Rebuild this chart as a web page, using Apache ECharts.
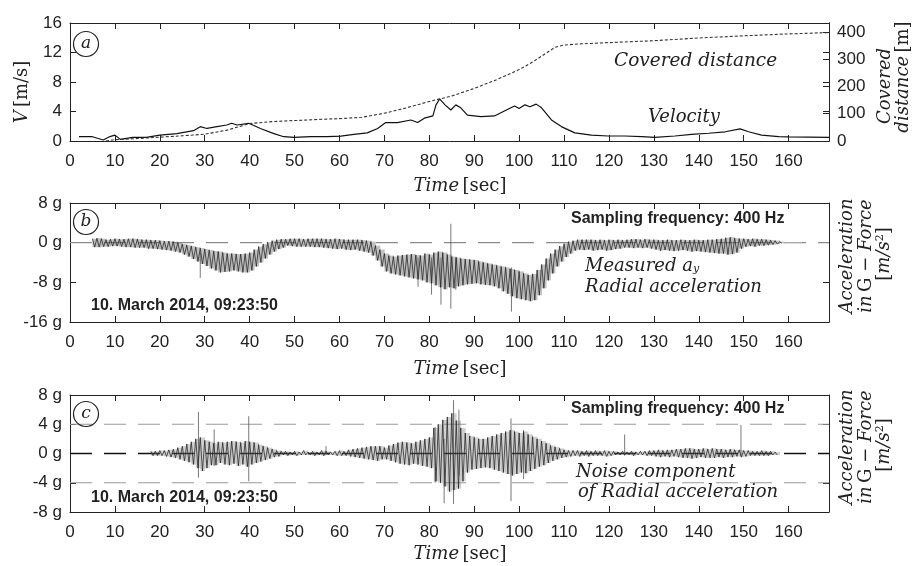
<!DOCTYPE html>
<html><head><meta charset="utf-8">
<script src="https://cdn.jsdelivr.net/npm/echarts@6/dist/echarts.min.js"></script>
<style>html,body{margin:0;padding:0;background:#fff}#c{width:914px;height:566px}</style>
</head><body><div id="c"></div>
<script>
// ---------- axis ranges / ticks ----------
const X_MIN = 0, X_MAX = 169, X_STEP = 10;
const V_MIN = 0, V_MAX = 16, V_STEP = 4;
const D_MIN = 0, D_MAX = 433, D_STEP = 100;
const B_MIN = -16, B_MAX = 8, B_STEP = 8;
const C_MIN = -8, C_MAX = 8, C_STEP = 4;

// ---------- panel (a): velocity [m/s] ----------
const vT = [2,5,7.4,8.9,10,11.2,14,17,20,23.8,27.5,29,30.5,32.7,34.9,36,37.2,39.8,42.4,45.4,47.6,49.9,53.6,57.3,60.3,63.2,66.2,68.5,70.3,72.9,75.9,77.4,78.9,80.8,81.5,82.3,83.5,84.8,85.9,87,88.5,91.5,94.5,97.5,99,100,101.3,102.4,103.8,105,107.2,109.4,112.4,116.1,119.8,123.5,127.3,130.2,134.7,138.4,142.2,145.9,149.2,151.1,154,157.8,160,169];
const vV = [0.6,0.58,0.14,0.6,0.8,0.22,0.5,0.5,0.8,1.0,1.4,1.94,1.7,1.94,2.17,2.4,2.17,2.4,1.7,1.0,0.58,0.5,0.58,0.58,0.67,0.9,1.1,1.7,2.5,2.5,2.85,2.5,3.1,3.4,4.9,5.7,4.9,4.2,4.9,4.5,3.5,3.3,3.4,4.3,4.75,4.4,4.9,4.65,5.0,4.5,2.85,1.95,1.1,0.8,0.68,0.68,0.6,0.5,0.68,0.9,1.05,1.25,1.65,1.25,0.8,0.6,0.55,0.5];
// ---------- panel (a): covered distance [m] ----------
const dT = [8,10,15,20,25,30,35,40,45,50,55,60,65,70,75,80,83,85,90,95,100,103,106,108,110,113,116,120,130,140,150,160,169];
const dV = [0,5,9,14,19,25,40,64,71,75,79,82,87,102,122,145,157,165,193,225,262,290,322,344,352,356,358,361,368,378,386,393,398];

// ---------- panel (b): measured radial acceleration envelope, one reading per second from bStart ----------
const bStart = 5;
const bHi = [0.8,0.9,0.8,0.6,0.7,0.8,0.7,0.7,0.8,0.8,
 0.7,0.6,0.6,0.5,0.5,0.4,0.3,0.3,0.2,0.0,
 -0.3,-0.5,-0.7,-0.9,-1.1,-1.3,-1.5,-1.7,-1.8,-2.0,
 -2.2,-2.2,-2.3,-2.3,-2.2,-2.0,-1.4,-0.8,-0.3,0.1,
 0.4,0.6,0.7,0.7,0.8,0.8,0.8,0.7,0.8,0.8,
 0.8,0.8,0.7,0.7,0.8,0.7,0.6,0.6,0.6,0.6,
 0.5,0.4,0.2,-0.6,-1.4,-2.2,-2.6,-2.8,-2.6,-2.5,
 -2.4,-2.3,-2.5,-2.6,-2.2,-2.4,-2.0,-1.8,-2.0,-2.4,
 -2.8,-3.0,-3.2,-3.3,-3.4,-3.5,-3.8,-4.0,-4.2,-4.4,
 -4.6,-4.8,-5.0,-5.3,-5.5,-5.8,-6.2,-6.5,-6.3,-5.5,
 -4.4,-3.2,-2.2,-1.4,-0.7,-0.2,0.2,0.4,0.6,0.6,
 0.6,0.6,0.5,0.6,0.5,0.6,0.5,0.6,0.5,0.6,
 0.7,0.7,0.6,0.7,0.6,0.6,0.5,0.5,0.6,0.5,
 0.5,0.6,0.5,0.5,0.6,0.5,0.5,0.6,0.6,0.7,
 0.8,1.0,1.1,0.9,0.8,0.8,0.7,0.8,0.7,0.7,
 0.6,0.5,0.4,0.2];
const bLo = [-0.9,-0.9,-0.8,-0.8,-0.7,-0.7,-0.8,-0.9,-0.9,-1.0,
 -1.0,-1.0,-1.2,-1.2,-1.3,-1.4,-1.5,-1.6,-1.8,-2.0,
 -2.4,-2.8,-3.3,-3.8,-4.3,-4.7,-5.2,-5.6,-6.0,-5.9,
 -5.8,-5.6,-5.8,-6.0,-6.0,-5.6,-4.8,-4.0,-3.2,-2.4,
 -1.8,-1.3,-1.0,-0.6,-0.7,-0.8,-0.8,-0.8,-0.8,-0.9,
 -0.9,-1.0,-1.1,-1.2,-1.3,-1.2,-1.4,-1.5,-1.4,-1.6,
 -1.8,-2.0,-2.6,-3.6,-4.8,-5.8,-6.2,-6.4,-6.6,-6.8,
 -7.0,-7.2,-7.4,-7.6,-8.0,-8.2,-8.6,-9.0,-9.4,-9.0,
 -9.2,-8.8,-8.6,-8.4,-8.3,-8.2,-8.4,-8.5,-8.6,-8.8,
 -9.2,-9.8,-10.3,-10.8,-11.2,-11.4,-11.6,-11.8,-11.6,-10.6,
 -9.2,-7.6,-6.2,-4.8,-3.8,-2.9,-2.2,-1.6,-1.4,-1.5,
 -1.4,-1.6,-1.5,-1.4,-1.6,-1.5,-1.3,-1.2,-1.0,-1.0,
 -1.1,-1.0,-1.1,-1.0,-1.2,-1.4,-1.6,-1.5,-1.6,-1.7,
 -1.6,-1.5,-1.6,-1.8,-1.7,-1.8,-1.9,-2.0,-2.1,-2.2,
 -2.2,-2.4,-2.3,-2.0,-1.2,-0.8,-0.7,-0.8,-0.6,-0.6,
 -0.5,-0.4,-0.3,-0.1];
const bSpikeT   = [29.0, 77.5, 80.5, 82.6, 84.8, 85.9, 98.3];
const bSpikeTop = [-2.0, -3.0, -3.0, -3.0, 3.8, -3.0, -5.0];
const bSpikeBot = [-7.1, -8.9, -10.5, -12.5, -13.3, -9.5, -13.9];
const bTailT = [158.5, 163];
const bTailV = [0, 0];
const bRefLevels = [0];

// ---------- panel (c): noise component envelope, one reading per second from cStart ----------
const cStart = 18;
const cHi = [0.3,0.3,0.4,0.4,0.5,0.6,0.8,1.0,1.3,1.6,
 2.0,2.2,1.8,1.6,1.4,1.6,1.5,1.6,1.7,1.6,
 1.5,1.7,1.6,1.5,1.2,1.0,0.8,0.6,0.4,0.3,
 0.3,0.2,0.3,0.2,0.4,0.2,0.3,0.2,0.4,0.3,
 0.2,0.3,0.4,0.3,0.5,0.6,0.7,0.8,0.9,1.0,
 1.0,1.0,0.8,1.1,1.3,1.5,1.6,1.5,1.4,1.6,
 1.8,2.0,2.2,3.5,4.0,4.6,5.0,5.5,4.5,3.5,
 2.8,2.4,2.2,2.0,2.0,2.2,2.4,2.6,2.8,3.0,
 3.2,3.0,2.8,3.0,2.6,2.3,2.0,1.7,1.4,1.1,
 0.9,0.7,0.5,0.4,0.4,0.4,0.3,0.4,0.3,0.4,
 0.3,0.4,0.3,0.3,0.2,0.3,0.2,0.3,0.2,0.3,
 0.3,0.4,0.4,0.5,0.4,0.5,0.5,0.6,0.6,0.7,
 0.7,0.6,0.6,0.7,0.6,0.7,0.6,0.6,0.5,0.6,
 0.5,0.5,0.4,0.4,0.3,0.3,0.4,0.3,0.3,0.2];
const cLo = [-0.3,-0.3,-0.3,-0.4,-0.5,-0.6,-0.8,-1.0,-1.2,-1.5,
 -2.0,-2.4,-2.0,-1.6,-1.6,-1.3,-1.5,-1.6,-1.4,-1.7,
 -1.5,-1.8,-1.5,-1.3,-1.1,-0.9,-0.7,-0.5,-0.4,-0.2,
 -0.3,-0.2,-0.3,-0.2,-0.2,-0.2,-0.3,-0.2,-0.3,-0.2,
 -0.2,-0.3,-0.3,-0.3,-0.4,-0.5,-0.6,-0.7,-0.8,-0.9,
 -1.0,-0.8,-0.8,-1.0,-1.2,-1.4,-1.5,-1.6,-1.4,-1.5,
 -1.7,-1.8,-2.0,-3.8,-4.0,-4.5,-5.2,-5.0,-4.8,-3.8,
 -2.6,-2.2,-2.1,-2.0,-1.9,-2.0,-2.2,-2.4,-2.6,-2.8,
 -3.0,-2.8,-2.6,-2.7,-2.4,-2.1,-1.8,-1.6,-1.3,-1.0,
 -0.8,-0.6,-0.5,-0.4,-0.3,-0.4,-0.3,-0.4,-0.3,-0.3,
 -0.3,-0.4,-0.3,-0.2,-0.2,-0.2,-0.2,-0.3,-0.2,-0.2,
 -0.3,-0.3,-0.4,-0.5,-0.4,-0.5,-0.4,-0.5,-0.6,-0.6,
 -0.7,-0.6,-0.5,-0.6,-0.6,-0.6,-0.5,-0.6,-0.5,-0.5,
 -0.4,-0.5,-0.4,-0.3,-0.3,-0.3,-0.3,-0.3,-0.2,-0.2];
const cSpikeT   = [28.6, 32.1, 39.8, 57.0, 81.3, 83.3, 85.4, 86.6, 98.2, 101.0, 123.5, 149.4];
const cSpikeTop = [5.7, 3.3, 5.1, 1.0, 3.6, 2.0, 7.3, 6.0, 4.8, 3.2, 2.6, 3.9];
const cSpikeBot = [-3.3, -1.7, -3.8, -0.2, -4.0, -6.8, -6.9, -3.0, -6.5, -3.5, -0.3, -0.3];
const cRefGrey = [4, -4];
const cRefBlack = [0];

// ---------- build series data ----------
const zip = (a, b) => a.map((t, i) => [t, b[i]]);
function zigzag(start, hi, lo) {
  const out = [];
  hi.forEach((h, i) => { out.push([start + i, h]); out.push([start + i + 0.5, lo[i]]); });
  return out;
}
function spikes(t, top, bot) {
  const out = [];
  t.forEach((x, i) => { out.push([x, top[i]]); out.push([x, bot[i]]); out.push([x, '-']); });
  return out;
}
function refLine(level) { return [[X_MIN, level], [X_MAX, level]]; }

// ---------- styling helpers ----------
const INK = '#222';
const LINE = { show: true, onZero: false, lineStyle: { color: INK, width: 1 } };
const TICK = { show: true, inside: true, length: 6, lineStyle: { color: INK, width: 1 } };
const LBL = { fontFamily: 'Liberation Sans', fontSize: 17, color: INK };
const gridDefs = [{ top: 23, height: 118 }, { top: 203, height: 119 }, { top: 395, height: 117 }];

const xAxis = [];
gridDefs.forEach((g, i) => {
  xAxis.push({ type: 'value', gridIndex: i, min: X_MIN, max: X_MAX, interval: X_STEP, position: 'bottom',
    axisLine: LINE, axisTick: TICK, splitLine: { show: false },
    axisLabel: Object.assign({ margin: 12, showMaxLabel: false }, LBL) });
  xAxis.push({ type: 'value', gridIndex: i, min: X_MIN, max: X_MAX, interval: X_STEP, position: 'top',
    axisLine: LINE, axisTick: TICK, splitLine: { show: false }, axisLabel: { show: false } });
});
function yAx(grid, min, max, step, pos, labels, fmt) {
  return { type: 'value', gridIndex: grid, min, max, interval: step, position: pos,
    axisLine: LINE, axisTick: TICK, splitLine: { show: false },
    axisLabel: labels ? Object.assign({ margin: 8, showMaxLabel: pos === 'right' ? false : true, formatter: fmt || '{value}' }, LBL) : { show: false } };
}
const yAxis = [
  yAx(0, V_MIN, V_MAX, V_STEP, 'left', true),          // 0
  yAx(0, D_MIN, D_MAX, D_STEP, 'right', true),         // 1
  yAx(0, V_MIN, V_MAX, V_STEP, 'right', false),        // 2
  yAx(1, B_MIN, B_MAX, B_STEP, 'left', true, '{value} g'), // 3
  yAx(1, B_MIN, B_MAX, B_STEP, 'right', false),        // 4
  yAx(2, C_MIN, C_MAX, C_STEP, 'left', true, '{value} g'), // 5
  yAx(2, C_MIN, C_MAX, C_STEP, 'right', false)         // 6
];

const base = { type: 'line', showSymbol: false, symbol: 'none', animation: false, silent: true, connectNulls: false };
// envelope band: one rectangle per one-second reading, placed via the axes
function band(xi, yi, start, hi, lo, color, op) {
  return {
    type: 'custom', xAxisIndex: xi, yAxisIndex: yi, coordinateSystem: 'cartesian2d', silent: true, animation: false, z: 1,
    data: hi.map((h, i) => [start + i, h, lo[i]]),
    encode: { x: 0, y: [1, 2] },
    renderItem: (params, api) => {
      const t = api.value(0);
      const p1 = api.coord([t, api.value(1)]);
      const p2 = api.coord([t + 1, api.value(2)]);
      return { type: 'rect', shape: { x: p1[0], y: p1[1], width: p2[0] - p1[0] + 0.4, height: p2[1] - p1[1] },
        style: { fill: color, opacity: op } };
    }
  };
}
const series = [
  Object.assign({}, base, { name: 'Velocity', xAxisIndex: 0, yAxisIndex: 0, data: zip(vT, vV), z: 3,
    lineStyle: { color: '#111', width: 1.2 } }),
  Object.assign({}, base, { name: 'Covered distance', xAxisIndex: 0, yAxisIndex: 1, data: zip(dT, dV), z: 3,
    lineStyle: { color: '#333', width: 1.1, type: [3, 2] } }),
];
bRefLevels.forEach(l => series.push(Object.assign({}, base, { xAxisIndex: 2, yAxisIndex: 3, data: refLine(l), z: 0,
  lineStyle: { color: '#8a8a8a', width: 1.4, type: [22, 12] } })));
series.push(band(2, 3, bStart, bHi, bLo, '#666', 0.4));
series.push(Object.assign({}, base, { name: 'Measured a_y', xAxisIndex: 2, yAxisIndex: 3, data: zigzag(bStart, bHi, bLo), z: 3,
  lineStyle: { color: '#222', width: 0.75 } }));
series.push(Object.assign({}, base, { xAxisIndex: 2, yAxisIndex: 3, data: spikes(bSpikeT, bSpikeTop, bSpikeBot), z: 2,
  lineStyle: { color: '#555', width: 0.8 } }));
series.push(Object.assign({}, base, { xAxisIndex: 2, yAxisIndex: 3, data: zip(bTailT, bTailV), z: 2,
  lineStyle: { color: '#bbb', width: 0.8 } }));
cRefGrey.forEach(l => series.push(Object.assign({}, base, { xAxisIndex: 4, yAxisIndex: 5, data: refLine(l), z: 0,
  lineStyle: { color: '#999', width: 1.1, type: [22, 12] } })));
cRefBlack.forEach(l => series.push(Object.assign({}, base, { xAxisIndex: 4, yAxisIndex: 5, data: refLine(l), z: 0,
  lineStyle: { color: '#111', width: 1.5, type: [22, 12] } })));
series.push(band(4, 5, cStart, cHi, cLo, '#777', 0.35));
series.push(Object.assign({}, base, { name: 'Noise component', xAxisIndex: 4, yAxisIndex: 5, data: zigzag(cStart, cHi, cLo), z: 3,
  lineStyle: { color: '#222', width: 0.75 } }));
series.push(Object.assign({}, base, { xAxisIndex: 4, yAxisIndex: 5, data: spikes(cSpikeT, cSpikeTop, cSpikeBot), z: 2,
  lineStyle: { color: '#555', width: 0.8 } }));

// ---------- text annotations ----------
const SERIF = 'DejaVu Serif';
function txt(x, y, text, font, align, extra) {
  return Object.assign({ type: 'text', x, y, z: 100, silent: true,
    style: { text, font, fill: INK, textAlign: align || 'left', textVerticalAlign: 'middle', align: align || 'left', verticalAlign: 'middle' } }, extra || {});
}
function rich(x, y, text, richDef, align, rot) {
  return { type: 'text', x, y, z: 100, silent: true, rotation: rot || 0,
    style: { text, rich: richDef, fill: INK, textAlign: align || 'center', textVerticalAlign: 'middle', align: align || 'center', verticalAlign: 'middle' } };
}
const R = {
  i: { fontFamily: SERIF, fontStyle: 'italic', fontSize: 18, fill: INK, color: INK },
  r: { fontFamily: SERIF, fontSize: 18, fill: INK, color: INK },
  s: { fontFamily: SERIF, fontStyle: 'italic', fontSize: 11, fill: INK, color: INK, padding: [7, 0, 0, 0] },
  p: { fontFamily: SERIF, fontSize: 11, fill: INK, color: INK, padding: [0, 0, 7, 0] }
};
function circleLabel(cx, cy, ch) {
  return [
    { type: 'circle', shape: { cx, cy, r: 12.5 }, style: { fill: 'none', stroke: INK, lineWidth: 1.2 }, z: 100, silent: true },
    txt(cx, cy, ch, 'italic 17px ' + SERIF, 'center')
  ];
}
const BOLD = 'bold 16px Liberation Sans';
const IT = 'italic 18px ' + SERIF;
const PI2 = Math.PI / 2;
const graphic = [
  ...circleLabel(86, 44, 'a'), ...circleLabel(86, 222, 'b'), ...circleLabel(86, 414, 'c'),
  txt(614, 61, 'Covered distance', 'italic 18.5px ' + SERIF),
  txt(648, 117, 'Velocity', IT),
  txt(571, 219, 'Sampling frequency: 400 Hz', BOLD),
  txt(571, 409, 'Sampling frequency: 400 Hz', BOLD),
  txt(91, 306, '10. March 2014, 09:23:50', BOLD),
  txt(91, 498, '10. March 2014, 09:23:50', BOLD),
  rich(585, 266, '{i|Measured a}{s|y}', R, 'left'),
  txt(585, 287, 'Radial acceleration', IT),
  txt(576, 472, 'Noise component', IT),
  txt(578, 492, 'of Radial acceleration', IT),
  rich(460, 186, '{i|Time} {r|[sec]}', R),
  rich(460, 369, '{i|Time} {r|[sec]}', R),
  rich(460, 554, '{i|Time} {r|[sec]}', R),
  rich(22, 92, '{i|V} {r|[m/s]}', R, 'center', PI2),
  rich(885, 86, '{i|Covered}', R, 'center', PI2),
  rich(903, 77, '{i|distance} {r|[m]}', R, 'center', PI2),
  rich(847, 256, '{i|Acceleration}', R, 'center', PI2),
  rich(866, 256, '{i|in} {r|G − }{i|Force}', R, 'center', PI2),
  rich(884, 254, '{r|[}{i|m/s}{p|2}{r|]}', R, 'center', PI2),
  rich(847, 447, '{i|Acceleration}', R, 'center', PI2),
  rich(866, 447, '{i|in} {r|G − }{i|Force}', R, 'center', PI2),
  rich(884, 445, '{r|[}{i|m/s}{p|2}{r|]}', R, 'center', PI2)
];

const chart = echarts.init(document.getElementById('c'), null, { renderer: 'canvas' });
chart.setOption({
  backgroundColor: '#fff',
  animation: false,
  grid: gridDefs.map(g => ({ left: 70, right: 85, top: g.top, height: g.height, containLabel: false })),
  xAxis, yAxis, series, graphic
});
</script></body></html>
